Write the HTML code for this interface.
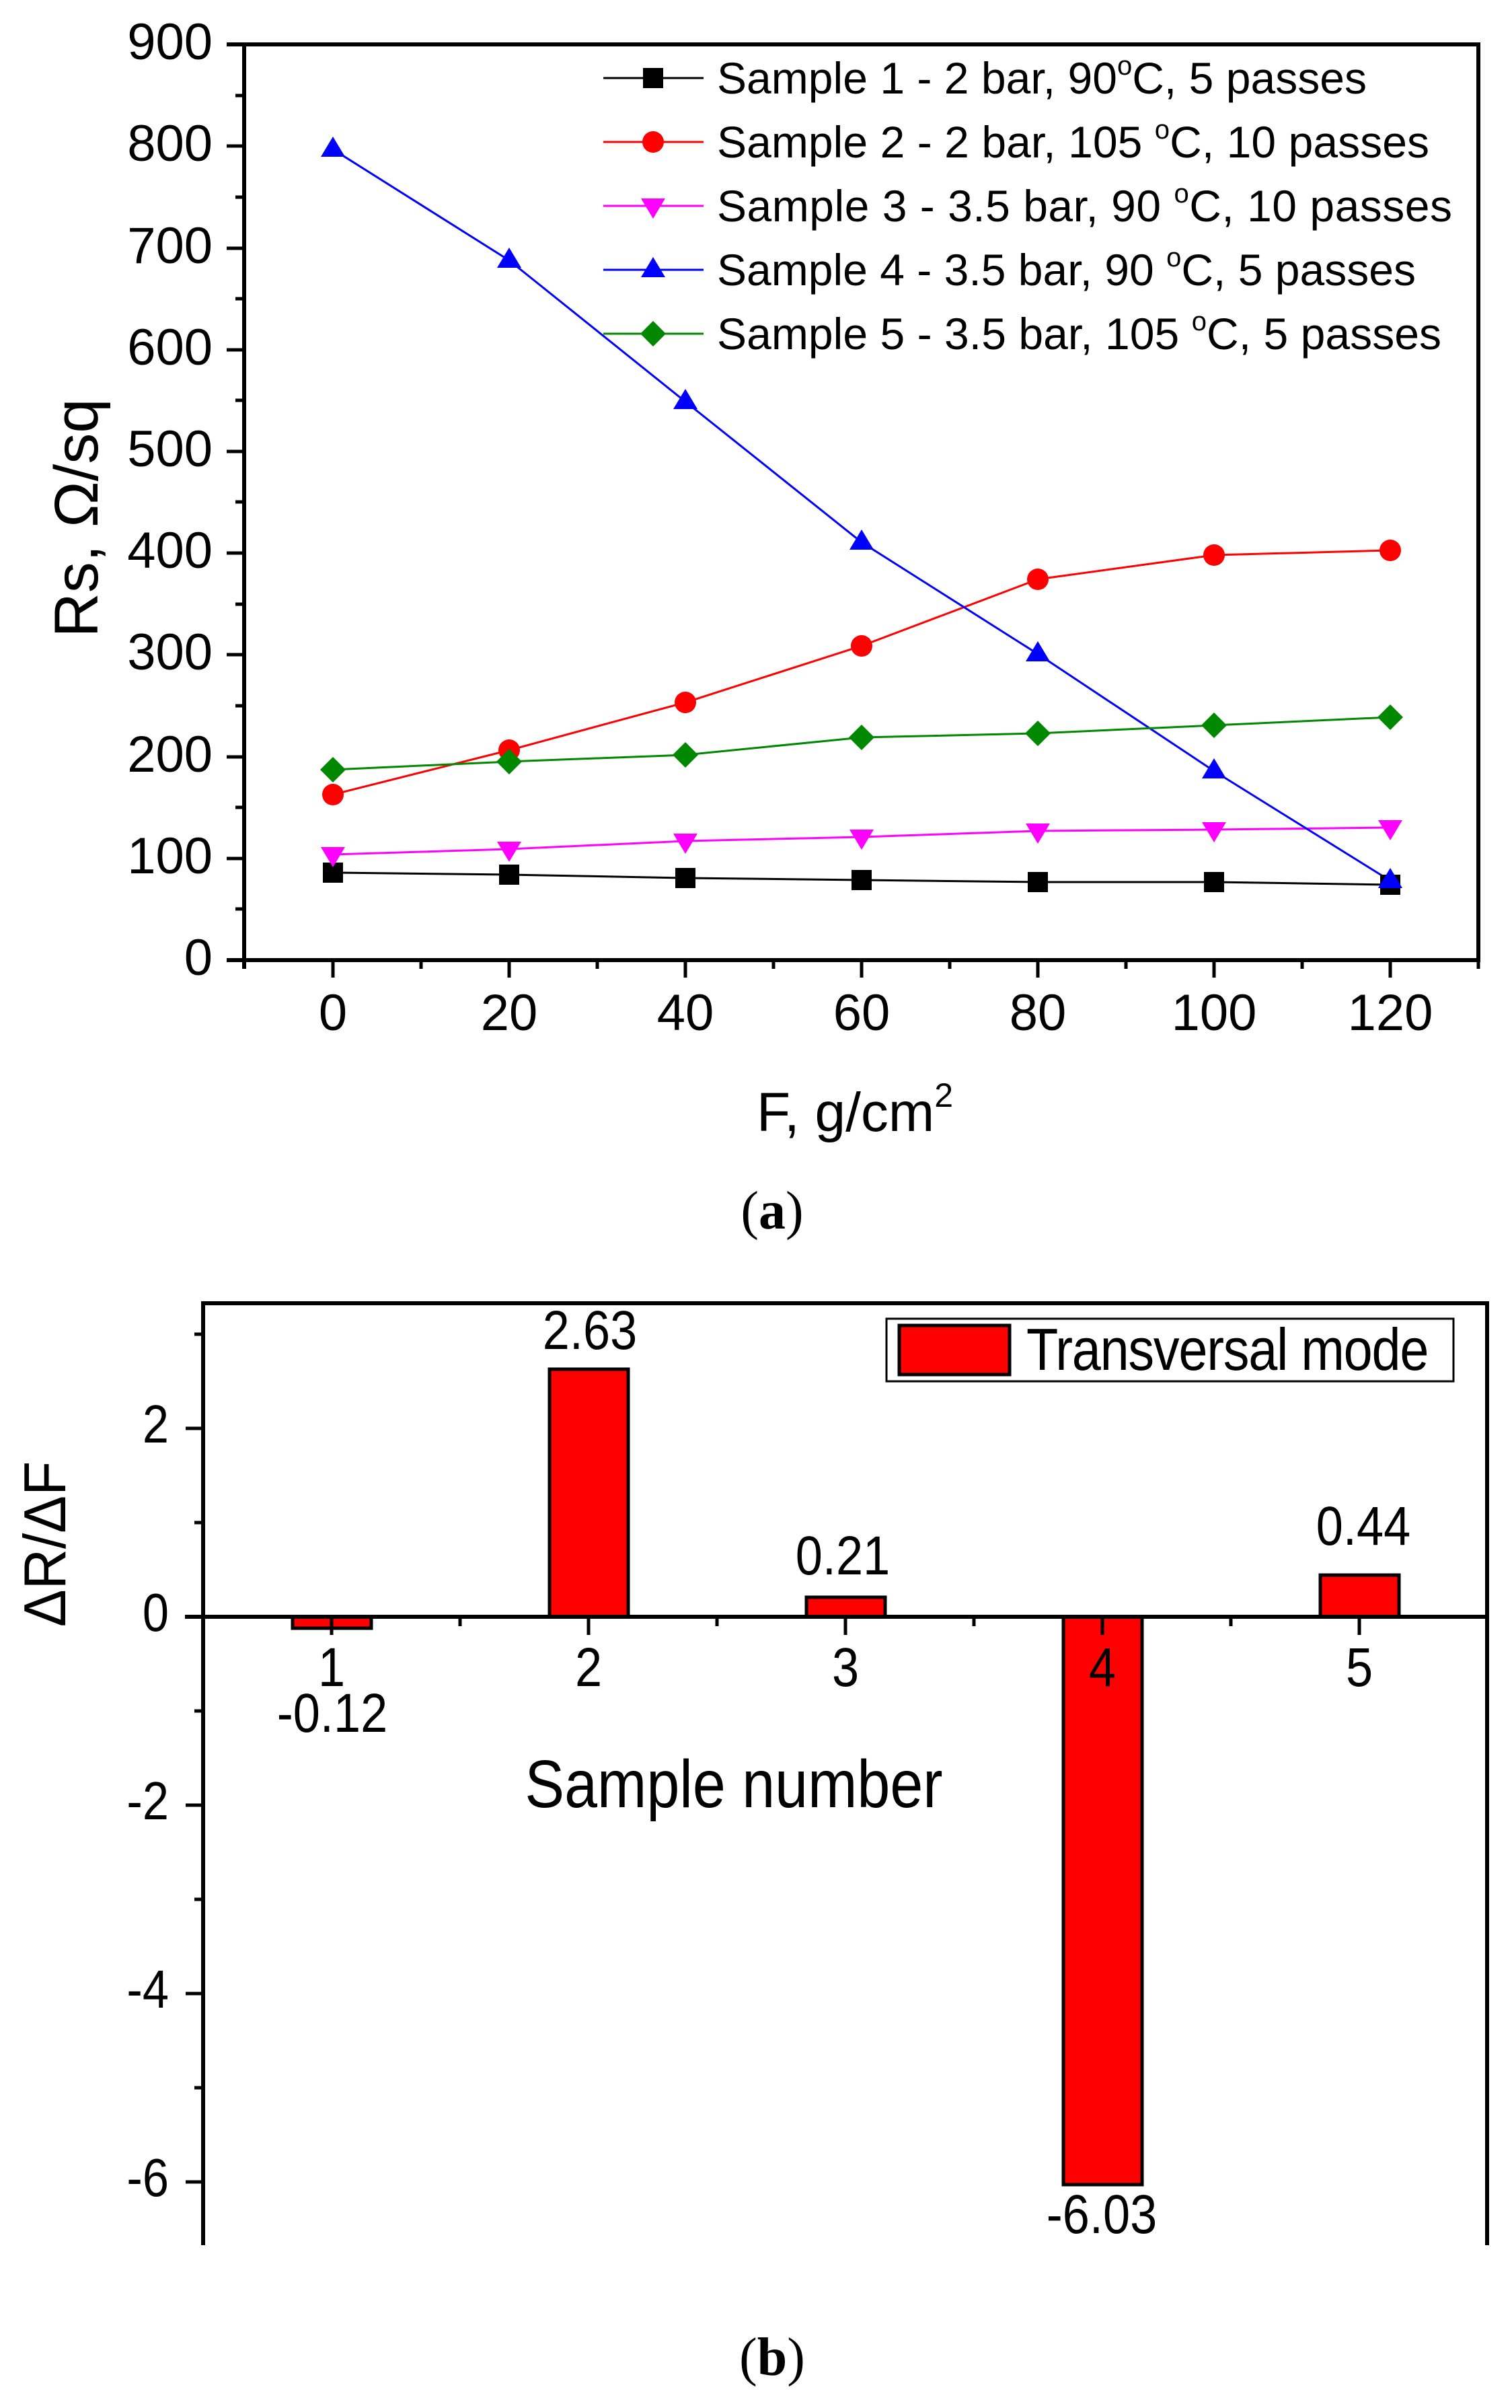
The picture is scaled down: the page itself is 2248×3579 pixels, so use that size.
<!DOCTYPE html>
<html><head><meta charset="utf-8"><style>
html,body{margin:0;padding:0;background:#fff}
svg{display:block}
text{font-family:"Liberation Sans",sans-serif;fill:#000}
</style></head><body>
<svg width="2248" height="3579" viewBox="0 0 2248 3579" xmlns="http://www.w3.org/2000/svg">
<rect width="2248" height="3579" fill="#fff"/>
<g stroke="#000" stroke-width="6" fill="none">
<path d="M337 66H2198V1427H337"/>
<path d="M363 66V1440"/>
</g>
<g stroke="#000" stroke-width="5">
<path d="M337 1276H363M337 1125H363M337 973H363M337 822H363M337 671H363M337 520H363M337 369H363M337 217H363"/>
<path d="M350 1351H363M350 1200H363M350 1049H363M350 898H363M350 746H363M350 595H363M350 444H363M350 293H363M350 142H363"/>
<path d="M495 1427V1453M757 1427V1453M1019 1427V1453M1281 1427V1453M1543 1427V1453M1805 1427V1453M2067 1427V1453"/>
<path d="M626 1427V1440M888 1427V1440M1150 1427V1440M1412 1427V1440M1674 1427V1440M1936 1427V1440M2198 1427V1440"/>
</g>
<g font-size="76" text-anchor="end">
<text x="316" y="1449">0</text><text x="316" y="1298">100</text><text x="316" y="1147">200</text><text x="316" y="995">300</text><text x="316" y="844">400</text><text x="316" y="693">500</text><text x="316" y="542">600</text><text x="316" y="391">700</text><text x="316" y="239">800</text><text x="316" y="88">900</text>
</g>
<g font-size="76" text-anchor="middle">
<text x="495" y="1531">0</text><text x="757" y="1531">20</text><text x="1019" y="1531">40</text><text x="1281" y="1531">60</text><text x="1543" y="1531">80</text><text x="1805" y="1531">100</text><text x="2067" y="1531">120</text>
</g>
<text x="1271" y="1681" font-size="82" text-anchor="middle">F, g/cm<tspan font-size="50" dy="-36">2</tspan></text>
<text transform="translate(145,770) rotate(-90)" font-size="92" text-anchor="middle">Rs, Ω/sq</text>
<text x="1148" y="1826" font-size="80" text-anchor="middle" style="font-family:'Liberation Serif',serif">(<tspan font-weight="bold">a</tspan>)</text>

<g fill="none" stroke-width="3">
<polyline stroke="#000" points="495,1297 757,1300 1019,1305 1281,1308 1543,1311 1805,1311 2067,1315"/>
<polyline stroke="#f00" points="495,1181 757,1115 1019,1044 1281,960 1543,861 1805,825 2067,818"/>
<polyline stroke="#f0f" points="495,1270 757,1262 1019,1250 1281,1244 1543,1235 1805,1233 2067,1230"/>
<polyline stroke="#00f" points="495,222 757,387 1019,597 1281,806 1543,972 1805,1146 2067,1309"/>
<polyline stroke="#080" points="495,1144 757,1132 1019,1122 1281,1096 1543,1090 1805,1078 2067,1066"/>
</g>
<g fill="#000">
<rect x="480" y="1282" width="30" height="30"/><rect x="742" y="1285" width="30" height="30"/><rect x="1004" y="1290" width="30" height="30"/><rect x="1266" y="1293" width="30" height="30"/><rect x="1528" y="1296" width="30" height="30"/><rect x="1790" y="1296" width="30" height="30"/><rect x="2052" y="1300" width="30" height="30"/>
</g>
<g fill="#f00">
<circle cx="495" cy="1181" r="16"/><circle cx="757" cy="1115" r="16"/><circle cx="1019" cy="1044" r="16"/><circle cx="1281" cy="960" r="16"/><circle cx="1543" cy="861" r="16"/><circle cx="1805" cy="825" r="16"/><circle cx="2067" cy="818" r="16"/>
</g>
<g fill="#f0f">
<path d="M477 1259h36l-18 30z"/><path d="M739 1251h36l-18 30z"/><path d="M1001 1239h36l-18 30z"/><path d="M1263 1233h36l-18 30z"/><path d="M1525 1224h36l-18 30z"/><path d="M1787 1222h36l-18 30z"/><path d="M2049 1219h36l-18 30z"/>
</g>
<g fill="#00f">
<path d="M477 233h36l-18-30z"/><path d="M739 398h36l-18-30z"/><path d="M1001 608h36l-18-30z"/><path d="M1263 817h36l-18-30z"/><path d="M1525 983h36l-18-30z"/><path d="M1787 1157h36l-18-30z"/><path d="M2049 1320h36l-18-30z"/>
</g>
<g fill="#080">
<path d="M495 1125l19 19-19 19-19-19z"/><path d="M757 1113l19 19-19 19-19-19z"/><path d="M1019 1103l19 19-19 19-19-19z"/><path d="M1281 1077l19 19-19 19-19-19z"/><path d="M1543 1071l19 19-19 19-19-19z"/><path d="M1805 1059l19 19-19 19-19-19z"/><path d="M2067 1047l19 19-19 19-19-19z"/>
</g>
<g stroke-width="3">
<line x1="897" y1="116" x2="1046" y2="116" stroke="#000"/>
<line x1="897" y1="211" x2="1046" y2="211" stroke="#f00"/>
<line x1="897" y1="306" x2="1046" y2="306" stroke="#f0f"/>
<line x1="897" y1="401" x2="1046" y2="401" stroke="#00f"/>
<line x1="897" y1="496" x2="1046" y2="496" stroke="#080"/>
</g>
<rect x="956" y="101" width="30" height="30" fill="#000"/>
<circle cx="971" cy="211" r="16" fill="#f00"/>
<path d="M953 295h36l-18 30z" fill="#f0f"/>
<path d="M953 412h36l-18-30z" fill="#00f"/>
<path d="M971 477l19 19-19 19-19-19z" fill="#080"/>
<g font-size="66">
<text x="1066" y="139" textLength="966">Sample 1 - 2 bar, 90<tspan font-size="40" dy="-28">o</tspan><tspan dy="28">C, 5 passes</tspan></text>
<text x="1066" y="234" textLength="1059">Sample 2 - 2 bar, 105 <tspan font-size="40" dy="-28">o</tspan><tspan dy="28">C, 10 passes</tspan></text>
<text x="1066" y="329" textLength="1093">Sample 3 - 3.5 bar,  90 <tspan font-size="40" dy="-28">o</tspan><tspan dy="28">C, 10 passes</tspan></text>
<text x="1066" y="424" textLength="1039">Sample 4 - 3.5 bar, 90 <tspan font-size="40" dy="-28">o</tspan><tspan dy="28">C, 5 passes</tspan></text>
<text x="1066" y="519" textLength="1077">Sample 5 - 3.5 bar, 105 <tspan font-size="40" dy="-28">o</tspan><tspan dy="28">C, 5 passes</tspan></text>
</g>

<g fill="#f00" stroke="#000" stroke-width="5">
<rect x="435" y="2403" width="117" height="17"/>
<rect x="817" y="2035" width="117" height="368"/>
<rect x="1199" y="2374" width="117" height="29"/>
<rect x="1581" y="2403" width="117" height="844"/>
<rect x="1963" y="2341" width="117" height="62"/>
</g>
<g stroke="#000" stroke-width="6" fill="none">
<path d="M302 3337V1937H2211V3337"/>
<path d="M275 2403H2211"/>
</g>
<g stroke="#000" stroke-width="5">
<path d="M276 2123H302M276 2683H302M276 2963H302M276 3243H302"/>
<path d="M289 1983H302M289 2263H302M289 2543H302M289 2823H302M289 3103H302"/>
<path d="M493 2403V2430M875 2403V2430M1257 2403V2430M1639 2403V2430M2021 2403V2430"/>
<path d="M684 2403V2417M1066 2403V2417M1448 2403V2417M1830 2403V2417"/>
</g>
<g font-size="80" text-anchor="end">
<text transform="translate(251,2144) scale(.88,1)">2</text>
<text transform="translate(251,2424) scale(.88,1)">0</text>
<text transform="translate(251,2704) scale(.88,1)">-2</text>
<text transform="translate(251,2984) scale(.88,1)">-4</text>
<text transform="translate(251,3264) scale(.88,1)">-6</text>
</g>
<g font-size="82" text-anchor="middle">
<text transform="translate(493,2506) scale(.88,1)">1</text>
<text transform="translate(875,2506) scale(.88,1)">2</text>
<text transform="translate(1257,2506) scale(.88,1)">3</text>
<text transform="translate(1639,2506) scale(.88,1)">4</text>
<text transform="translate(2021,2506) scale(.88,1)">5</text>
<text transform="translate(494,2574) scale(.88,1)">-0.12</text>
<text transform="translate(877,2005) scale(.88,1)">2.63</text>
<text transform="translate(1253,2340) scale(.88,1)">0.21</text>
<text transform="translate(2027,2296) scale(.88,1)">0.44</text>
<text transform="translate(1638,3319) scale(.88,1)">-6.03</text>
<text transform="translate(1091,2686) scale(.88,1)" font-size="100">Sample number</text>
<text transform="translate(97,2295) rotate(-90) scale(.95,1)" font-size="88">ΔR/ΔF</text>
</g>
<rect x="1318" y="1960" width="843" height="93" fill="#fff" stroke="#000" stroke-width="3"/>
<rect x="1337" y="1970" width="164" height="73" fill="#f00" stroke="#000" stroke-width="5"/>
<text transform="translate(1526,2036) scale(.88,1)" font-size="88" textLength="680">Transversal mode</text>
<text x="1148" y="3530" font-size="80" text-anchor="middle" style="font-family:'Liberation Serif',serif">(<tspan font-weight="bold">b</tspan>)</text>
</svg>
</body></html>
